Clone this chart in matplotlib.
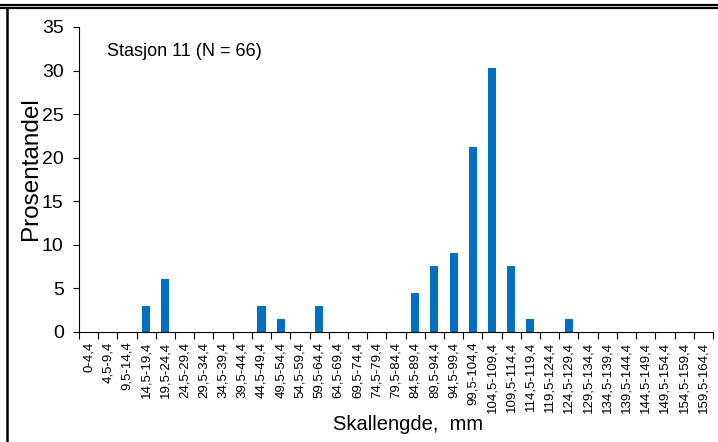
import matplotlib.pyplot as plt
import numpy as np
from matplotlib.lines import Line2D

plt.rcParams['font.family'] = ['Liberation Sans', 'DejaVu Sans']

# Size classes (mm)
classes = [
    "0-4,4", "4,5-9,4", "9,5-14,4", "14,5-19,4", "19,5-24,4", "24,5-29,4",
    "29,5-34,4", "34,5-39,4", "39,5-44,4", "44,5-49,4", "49,5-54,4", "54,5-59,4",
    "59,5-64,4", "64,5-69,4", "69,5-74,4", "74,5-79,4", "79,5-84,4", "84,5-89,4",
    "89,5-94,4", "94,5-99,4", "99,5-104,4", "104,5-109,4", "109,5-114,4",
    "114,5-119,4", "119,5-124,4", "124,5-129,4", "129,5-134,4", "134,5-139,4",
    "139,5-144,4", "144,5-149,4", "149,5-154,4", "154,5-159,4", "159,5-164,4",
]
# Percent of individuals per class (N = 66)
percent = [
    0, 0, 0, 3.0, 6.1, 0, 0, 0, 0, 3.0, 1.5, 0, 3.0, 0, 0, 0, 0, 4.5,
    7.6, 9.1, 21.2, 30.3, 7.6, 1.5, 0, 1.5, 0, 0, 0, 0, 0, 0, 0,
]

fig = plt.figure(figsize=(7.18, 4.42), dpi=100)
ax = fig.add_axes([0.110, 0.249, 0.883, 0.690])

x = np.arange(len(classes))
ax.bar(x, percent, width=0.42, color="#0070C0")

ax.set_xlim(-0.5, len(classes) - 0.5)
ax.set_ylim(0, 35)
ax.set_yticks(range(0, 36, 5))
ax.set_xticks(x)
ax.set_xticklabels(classes, rotation=90, fontsize=9.5)
ax.set_xticks(np.arange(-0.5, len(classes), 1), minor=True)
ax.tick_params(axis="x", which="major", length=0, pad=7)
ax.tick_params(axis="x", which="minor", length=5, direction="out", width=0.8)
ax.tick_params(axis="y", length=4, width=0.8, labelsize=14, pad=7)

for side in ("top", "right"):
    ax.spines[side].set_visible(False)
ax.spines["left"].set_linewidth(0.8)
ax.spines["bottom"].set_linewidth(0.8)

ax.set_ylabel("Prosentandel", fontsize=17.5)
ax.yaxis.set_label_coords(-0.058, 0.534)
ax.set_xlabel("Skallengde,  mm", fontsize=14.5)
ax.xaxis.set_label_coords(0.519, -0.272)
ax.text(0.044, 0.92, "Stasjon 11 (N = 66)", transform=ax.transAxes,
        fontsize=13, va="center")

# Frame lines of the original figure
fig.add_artist(Line2D([0, 1], [1 - 4.5 / 442] * 2, color="black", lw=1.6))
fig.add_artist(Line2D([0, 1], [1 - 7.8 / 442] * 2, color="black", lw=1.6))
fig.add_artist(Line2D([6.5 / 718] * 2, [0, 1 - 7.8 / 442], color="black", lw=1.8))

fig.savefig("out.png", dpi=100)
